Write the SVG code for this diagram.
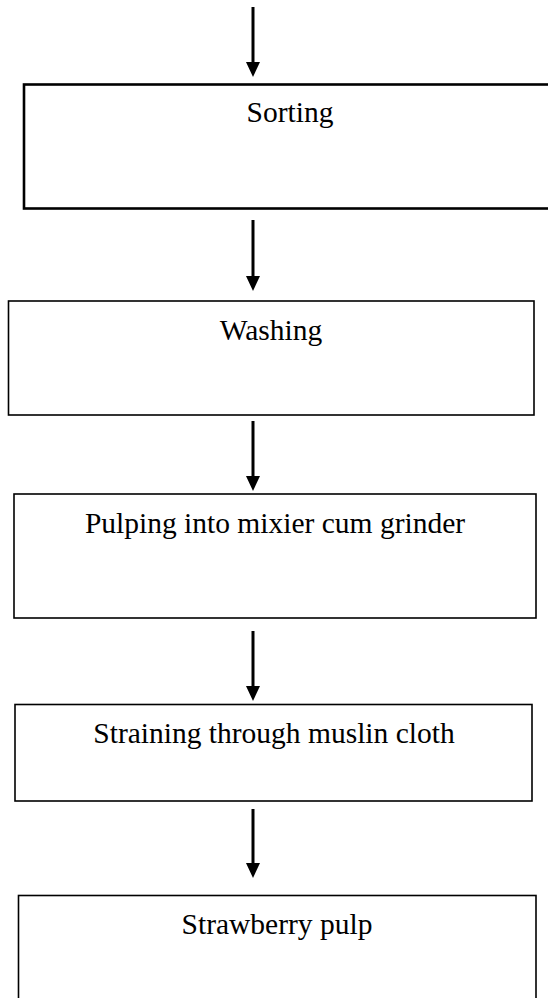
<svg xmlns="http://www.w3.org/2000/svg" width="548" height="998" viewBox="0 0 548 998">
<style>
.box{fill:#fff;stroke:#000;stroke-width:1.6}
.thick{stroke-width:2.6}
.lbl{font-family:"Liberation Serif","Times New Roman",serif;font-size:29.5px;fill:#000;text-anchor:middle}
.arr{stroke:#000;stroke-width:3;fill:none;marker-end:url(#ah)}
</style>
<defs>
<marker id="ah" markerUnits="userSpaceOnUse" markerWidth="15" markerHeight="14" refX="0" refY="7" orient="auto" viewBox="0 0 15 14">
<path d="M0,0 L15,7 L0,14 Z" fill="#000"/>
</marker>
</defs>
<rect width="548" height="998" fill="#fff"/>
<g id="connectors">
<line class="arr" x1="253" y1="7" x2="253" y2="62"/>
<line class="arr" x1="253" y1="220" x2="253" y2="276"/>
<line class="arr" x1="253" y1="421" x2="253" y2="476"/>
<line class="arr" x1="253" y1="631" x2="253" y2="686"/>
<line class="arr" x1="253" y1="809" x2="253" y2="863"/>
</g>
<g id="node-sorting">
<rect class="box thick" x="24" y="84.5" width="532" height="124"/>
<text class="lbl" x="290" y="122">Sorting</text>
</g>
<g id="node-washing">
<rect class="box" x="8.5" y="301" width="525.5" height="114"/>
<text class="lbl" x="271" y="340">Washing</text>
</g>
<g id="node-pulping">
<rect class="box" x="14" y="494" width="522" height="124"/>
<text class="lbl" x="275" y="533">Pulping into mixier cum grinder</text>
</g>
<g id="node-straining">
<rect class="box" x="15" y="704.5" width="517" height="96.5"/>
<text class="lbl" x="274" y="743">Straining through muslin cloth</text>
</g>
<g id="node-pulp">
<rect class="box" x="18.5" y="895.5" width="517.5" height="110"/>
<text class="lbl" x="277" y="934">Strawberry pulp</text>
</g>
</svg>
